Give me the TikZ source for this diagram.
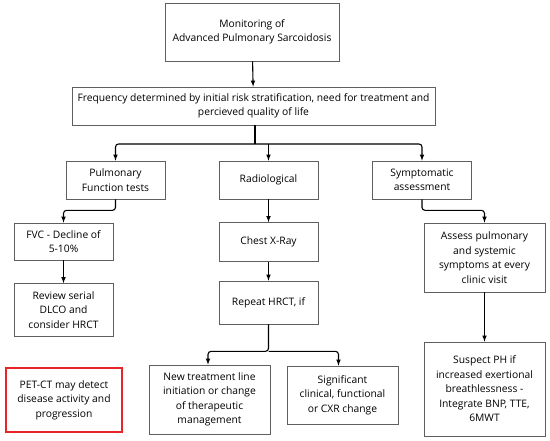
\documentclass[tikz,border=0pt]{standalone}
\usepackage{fontspec}
\setmainfont{Open Sans}
\usetikzlibrary{positioning,calc}
\definecolor{boxgray}{RGB}{95,95,95}
\definecolor{alertred}{RGB}{232,38,42}
\tikzset{>=latex}
\tikzset{box/.style={draw=boxgray, line width=0.7pt, align=center, inner sep=0pt,
    font=\fontsize{10.3}{14.5}\selectfont}}
\tikzset{link/.style={->, line width=1.1pt, rounded corners=3pt}}

\begin{document}
\begin{tikzpicture}[x=1pt,y=-1pt]
  \useasboundingbox (0,0) rectangle (550,440);
  % first two levels
  \node[box, minimum width=174, minimum height=58] (monitor) at (252,32)
    {Monitoring of\\Advanced Pulmonary Sarcoidosis};
  \node[box, minimum width=363, minimum height=38] (freq) at (253.5,106)
    {Frequency determined by initial risk stratification, need for treatment and\\percieved quality of life};
  % three branches
  \node[box, minimum width=99, minimum height=38] (pft) at (115.5,180)
    {Pulmonary\\Function tests};
  \node[box, minimum width=99, minimum height=38] (radio) at (268.5,180)
    {Radiological};
  \node[box, minimum width=99, minimum height=38] (sympt) at (422,180)
    {Symptomatic\\assessment};
  % pulmonary function
  \node[box, minimum width=99, minimum height=37] (fvc) at (63.5,241.5)
    {FVC - Decline of\\5-10\%};
  \node[box, minimum width=99, minimum height=53] (review) at (63.5,310)
    {Review serial\\DLCO and\\consider HRCT};
  \node[box, draw=alertred, line width=2.4pt, minimum width=116, minimum height=64] (petct) at (64,400)
    {PET-CT may detect\\disease activity and\\progression};
  % radiological
  \node[box, minimum width=99, minimum height=39] (cxr) at (268.5,242)
    {Chest X-Ray};
  \node[box, minimum width=99, minimum height=43] (hrct) at (268.5,302.5)
    {Repeat HRCT, if};
  \node[box, minimum width=121, minimum height=69] (newtx) at (209.5,399.5)
    {New treatment line\\initiation or change\\of therapeutic\\management};
  \node[box, minimum width=111, minimum height=58] (change) at (342.5,395)
    {Significant\\clinical, functional\\or CXR change};
  % symptomatic
  \node[box, minimum width=121, minimum height=69] (assess) at (484.5,257.5)
    {Assess pulmonary\\and systemic\\symptoms at every\\clinic visit};
  \node[box, minimum width=121, minimum height=94] (suspect) at (484.5,389)
    {Suspect PH if\\increased exertional\\breathlessness -\\Integrate BNP, TTE,\\6MWT};

  % connectors
  \draw[link] (monitor) -- (freq);
  \coordinate (split) at (255,144);
  \draw[line width=1.1pt] (freq.south -| split) -- (split);
  \draw[link] (split) -| (pft);
  \draw[link] (split) -| (sympt);
  \draw[link] (split -| radio) -- (radio);
  \draw[link] (pft.south) -- ++(0,11) -| (fvc.north);
  \draw[link] (fvc) -- (review);
  \draw[link] (radio) -- (cxr);
  \draw[link] (cxr) -- (hrct);
  \draw[link] (hrct.south) -- ++(0,27) coordinate (split2) -| ([xshift=-1.5pt]newtx.north);
  \draw[link] (split2) -| ([xshift=-4pt]change.north);
  \draw[link] (sympt.south) -- ++(0,11) -| (assess.north);
  \draw[link] (assess) -- (suspect);
\end{tikzpicture}
\end{document}
